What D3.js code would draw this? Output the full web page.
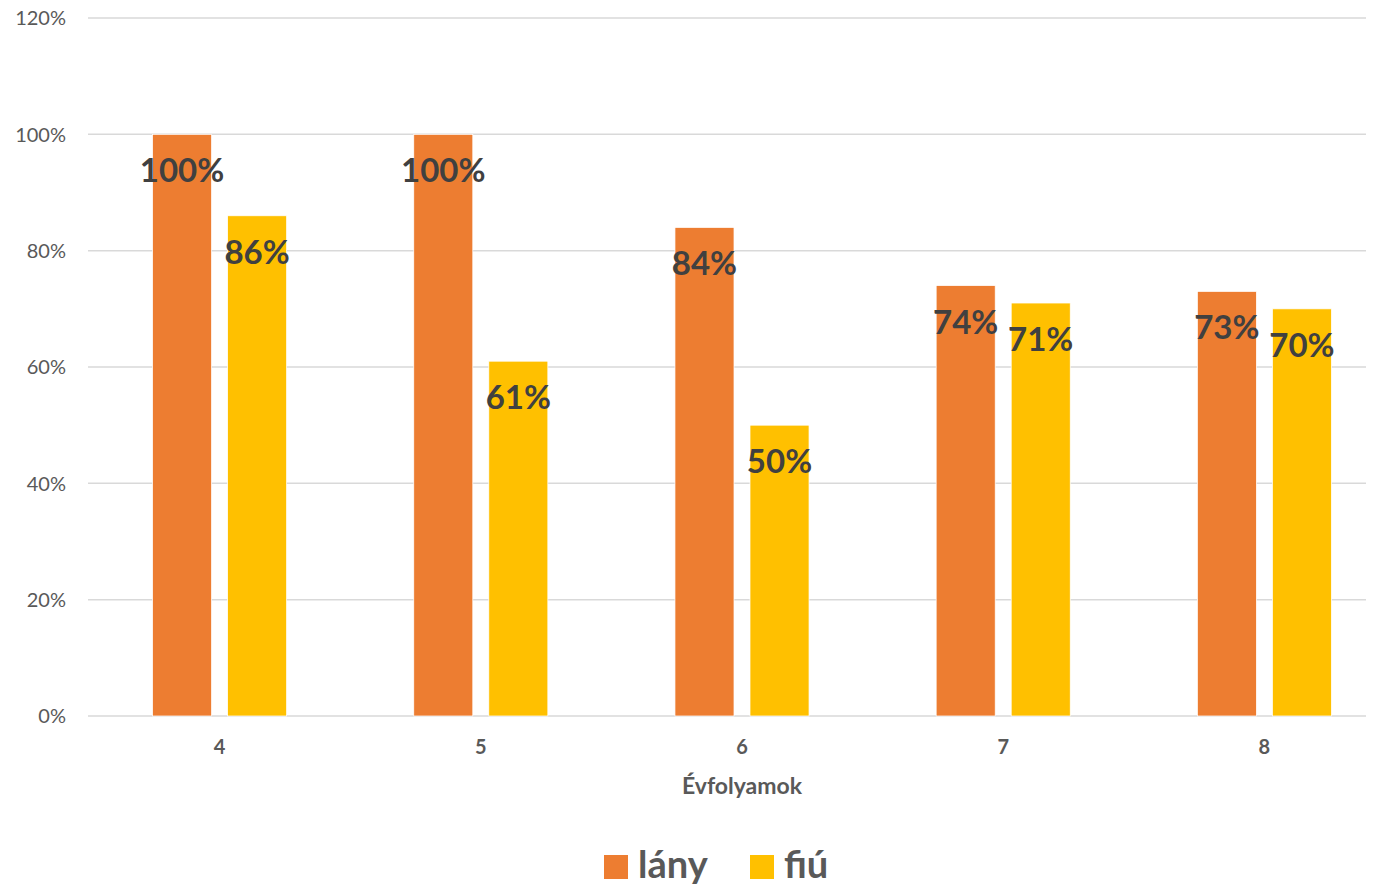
<!DOCTYPE html>
<html><head><meta charset="utf-8">
<script src="https://cdn.jsdelivr.net/npm/d3@7"></script>
<style>body{margin:0;background:#fff}svg{display:block}text{font-family:Lato,"Open Sans",sans-serif}</style>
</head><body><svg id="c" width="1379" height="887"></svg>
<script>
const categories = ["4","5","6","7","8"];
const seriesNames = ["lány","fiú"];
const lany = [1.00,1.00,0.84,0.74,0.73];
const fiu  = [0.86,0.61,0.50,0.71,0.70];
const yTicks = [0,0.2,0.4,0.6,0.8,1.0,1.2];
const colors = ["#ED7D31","#FFC000"];

const svg = d3.select("#c");
const x = d3.scaleBand().domain(categories).range([89,1395]);
const y = d3.scaleLinear().domain([0,1.2]).range([716,18]);
const x1 = d3.scaleBand().domain(seriesNames).range([0,x.bandwidth()]).paddingInner(0.213).paddingOuter(0.847);

svg.append("g").selectAll("line").data(yTicks).join("line")
  .attr("x1",88).attr("x2",1366).attr("y1",d=>y(d)).attr("y2",d=>y(d))
  .attr("stroke","#d9d9d9").attr("stroke-width",1.5);

svg.append("g").selectAll("text").data(yTicks).join("text")
  .attr("x",66).attr("y",d=>y(d)).attr("dy","0.36em").attr("text-anchor","end")
  .attr("font-size",20).attr("fill","#595959").text(d=>d3.format(".0%")(d));

const data = categories.map((c,i)=>({c, vals:[{s:"lány",v:lany[i],k:0},{s:"fiú",v:fiu[i],k:1}]}));
const g = svg.append("g").selectAll("g").data(data).join("g").attr("transform",d=>`translate(${x(d.c)},0)`);
g.selectAll("rect").data(d=>d.vals).join("rect")
  .attr("x",d=>x1(d.s)).attr("width",x1.bandwidth())
  .attr("y",d=>y(d.v)).attr("height",d=>y(0)-y(d.v))
  .attr("fill",d=>colors[d.k]).attr("stroke","#fff").attr("stroke-width",0.75);
g.selectAll("text").data(d=>d.vals).join("text")
  .attr("x",d=>x1(d.s)+x1.bandwidth()/2).attr("y",d=>y(d.v)+48)
  .attr("text-anchor","middle").attr("font-size",33).attr("font-weight",700).attr("fill","#404040")
  .text(d=>d3.format(".0%")(d.v));

svg.append("g").selectAll("text").data(categories).join("text")
  .attr("x",d=>x(d)+x.bandwidth()/2).attr("y",754).attr("text-anchor","middle")
  .attr("font-size",20).attr("font-weight",700).attr("fill","#595959").text(d=>d);

svg.append("text").attr("x",742).attr("y",794).attr("text-anchor","middle")
  .attr("font-size",23).attr("font-weight",700).attr("fill","#595959").text("Évfolyamok");

const legX = [604,750];
const lg = svg.append("g").selectAll("g").data(seriesNames).join("g").attr("transform",(d,i)=>`translate(${legX[i]},855)`);
lg.append("rect").attr("width",24).attr("height",24).attr("fill",(d,i)=>colors[i]);
lg.append("text").attr("x",34).attr("y",23).attr("font-size",38).attr("font-weight",700).attr("fill","#595959").text(d=>d);
</script></body></html>
